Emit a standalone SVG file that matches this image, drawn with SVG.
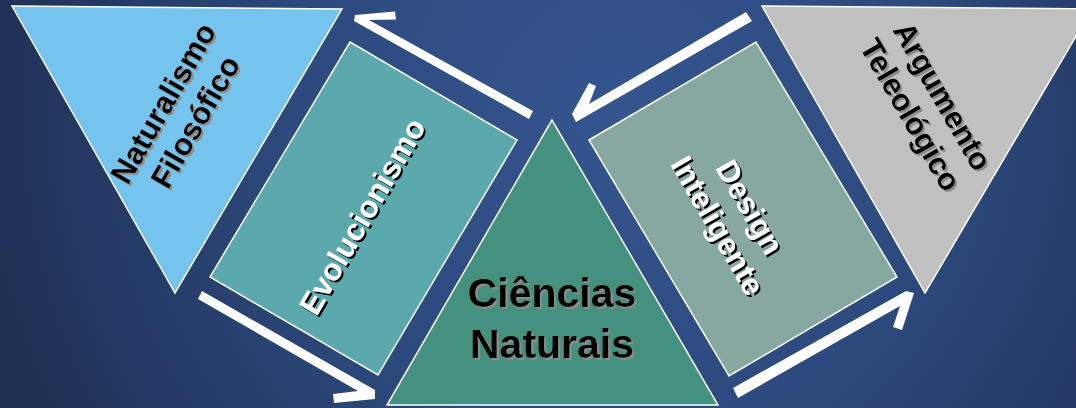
<svg xmlns="http://www.w3.org/2000/svg" width="1076" height="408" viewBox="0 0 1076 408">
  <defs>
    <radialGradient id="bg" gradientUnits="userSpaceOnUse" cx="620" cy="120" r="640">
      <stop offset="0" stop-color="#34558E"/>
      <stop offset="0.5" stop-color="#2D4A7E"/>
      <stop offset="1" stop-color="#1F3055"/>
    </radialGradient>
    <filter id="shGray" x="-20%" y="-20%" width="140%" height="140%">
      <feDropShadow dx="2" dy="2" stdDeviation="0.4" flood-color="#8C8C8C" flood-opacity="1"/>
    </filter>
    <filter id="shDark" x="-20%" y="-20%" width="140%" height="140%">
      <feDropShadow dx="2" dy="2" stdDeviation="0.4" flood-color="#000000" flood-opacity="1"/>
    </filter>
  </defs>
  <style>
    .shape { stroke: #FFFFFF; stroke-width: 1.5; stroke-linejoin: miter; }
    .lbl { font-family: "Liberation Sans", Arial, sans-serif; font-weight: bold; text-anchor: middle; }
    .small { font-size: 31px; }
    .big { font-size: 41px; }
    .dark { fill: #000000; }
    .light { fill: #FFFFFF; }
    .arrow { fill: #FFFFFF; stroke: none; }
  </style>
  <rect x="0" y="0" width="1076" height="408" fill="url(#bg)"/>

  <g id="connectors">
    <polygon class="arrow" points="354,21 355,15 395,11.5 396,19.5 369,20 533,111 529,119"/>
    <polygon class="arrow" points="198,299 202,291 375,390 375,399 334,403 333,394 358,391"/>
    <polygon class="arrow" points="576,122 572,114 589,83 596,86 589,104 746,12 752,21"/>
    <polygon class="arrow" points="733,388 906,291 914,293 902,330 893,327 900,306 738,398"/>
  </g>

  <g id="node-naturalismo">
    <polygon class="shape" fill="#75C4EE" points="12,6 342,9 175,293"/>
    <g filter="url(#shGray)">
      <g transform="translate(163,103) rotate(-60)">
        <text class="lbl small dark" x="0" y="11">Naturalismo</text>
        <text class="lbl small dark" x="0" y="48">Filosófico</text>
      </g>
    </g>
  </g>

  <g id="node-evolucionismo">
    <polygon class="shape" fill="#5CA9AD" points="350,42 517,140 378,375 210,277"/>
    <g filter="url(#shDark)">
      <g transform="translate(362,216) rotate(-60)">
        <text class="lbl small light" x="0" y="11">Evolucionismo</text>
      </g>
    </g>
  </g>

  <g id="node-ciencias">
    <polygon class="shape" fill="#45917F" points="552,120 387,405 718,405"/>
    <g filter="url(#shGray)">
      <text class="lbl big dark" x="552" y="307">Ciências</text>
      <text class="lbl big dark" x="552" y="358">Naturais</text>
    </g>
  </g>

  <g id="node-design">
    <polygon class="shape" fill="#87A8A0" points="589,140 756,42 897,277 729,376"/>
    <g filter="url(#shDark)">
      <g transform="translate(750,207) rotate(60)">
        <text class="lbl small light" x="0" y="11">Design</text>
        <text class="lbl small light" x="0" y="48">Inteligente</text>
      </g>
    </g>
  </g>

  <g id="node-argumento">
    <polygon class="shape" fill="#C0C0C0" points="762,6 1092,9 925,293"/>
    <g filter="url(#shGray)">
      <g transform="translate(943,96) rotate(60)">
        <text class="lbl small dark" x="0" y="11">Argumento</text>
        <text class="lbl small dark" x="0" y="48">Teleológico</text>
      </g>
    </g>
  </g>
</svg>
